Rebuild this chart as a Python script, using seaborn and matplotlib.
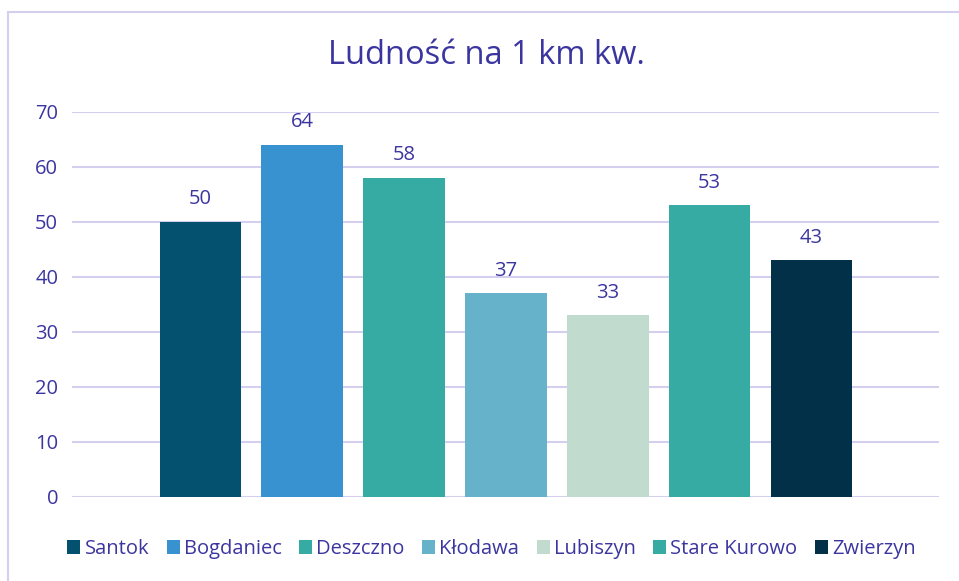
import matplotlib
matplotlib.use("Agg")
import matplotlib.pyplot as plt
import seaborn as sns
import pandas as pd
from matplotlib.patches import Rectangle

gminy = ["Santok", "Bogdaniec", "Deszczno", "Kłodawa", "Lubiszyn", "Stare Kurowo", "Zwierzyn"]
ludnosc = [50, 64, 58, 37, 33, 53, 43]
kolory = ["#03506f", "#3892d0", "#36aba4", "#67b2cb", "#c2dbcf", "#36aba4", "#023049"]

TEXT = "#3b35a0"
GRID = "#d4cfef"

df = pd.DataFrame({"gmina": gminy, "ludnosc": ludnosc})

sns.set_style("white")
plt.rcParams["font.family"] = ["Open Sans", "DejaVu Sans"]

fig = plt.figure(figsize=(9.59, 5.81), dpi=100)
ax = fig.add_axes([0.0751, 0.1446, 0.9039, 0.6627])

sns.barplot(data=df, x="gmina", y="ludnosc", hue="gmina", palette=kolory,
            width=0.8, saturation=1, linewidth=0, legend=True, ax=ax)

for cont in ax.containers:
    ax.bar_label(cont, fmt="%d", padding=9, fontsize=14.5, color=TEXT)

ax.set_ylim(0, 70)
ax.set_yticks(range(0, 71, 10))
ax.set_xlim(-1.26, 7.25)
ax.set_xticks([])
ax.set_xlabel("")
ax.set_ylabel("")
ax.grid(axis="y", color=GRID, linewidth=1.5)
ax.set_axisbelow(True)
for s in ax.spines.values():
    s.set_visible(False)
ax.tick_params(axis="y", length=0, pad=10, labelsize=14.5, labelcolor=TEXT)

fig.text(486 / 959, 1 - 56 / 581, "Ludność na 1 km kw.", fontsize=23.5,
         color=TEXT, ha="center", va="center")

handles, labels = ax.get_legend_handles_labels()
ax.legend(handles, labels, loc="center", bbox_to_anchor=(0.484, -0.135), ncol=7,
          frameon=False, fontsize=14.5, labelcolor=TEXT, handlelength=0.65,
          handleheight=0.65, handletextpad=0.2, columnspacing=0.87)

fig.patches.append(Rectangle((8 / 959, -0.1), 1.2, 1 - 12 / 581 + 0.1,
                             transform=fig.transFigure, fill=False,
                             edgecolor=GRID, linewidth=1.5))

fig.savefig("out.png", dpi=100)
